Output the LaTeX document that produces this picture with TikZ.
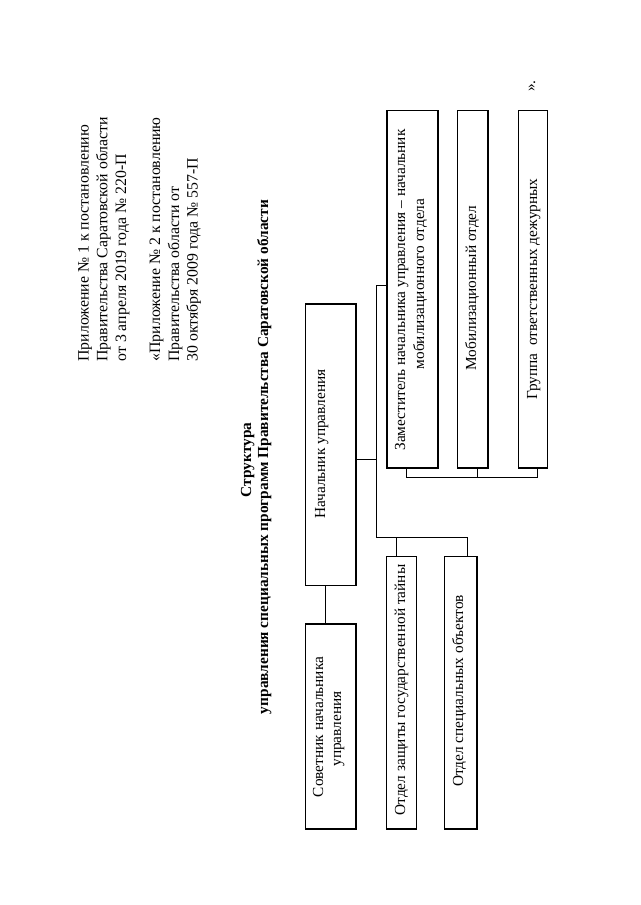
\documentclass[tikz,border=0pt]{standalone}
\usepackage{fontspec}
\setmainfont{Liberation Serif}
\usetikzlibrary{fit}
\begin{document}
\begin{tikzpicture}[x=0.75pt, y=-0.75pt,
  box/.style={draw, line width=0.9pt, inner sep=0pt},
  txt/.style={rotate=90, inner sep=0pt, font=\fontsize{11.5}{14}\selectfont},
  hdr/.style={rotate=90, inner sep=0pt, font=\fontsize{11.85}{14}\selectfont},
  ttl/.style={rotate=90, inner sep=0pt, font=\fontsize{11.5}{14}\selectfont\bfseries},
  conn/.style={line width=0.9pt}]
\useasboundingbox[fill=white] (0,0) rectangle (640,905);

% header
\node[hdr, anchor=base west] (h1) at (88.5,361.7) {Приложение № 1 к постановлению};
\node[hdr, anchor=base west] (h2) at (107.3,361.7) {Правительства Саратовской области};
\node[hdr, anchor=base west] (h3) at (126,361.7) {от 3 апреля 2019 года № 220-П};
\node[hdr, anchor=base west] (h4) at (160,361.7) {«Приложение № 2 к постановлению};
\node[hdr, anchor=base west] (h5) at (179,361.7) {Правительства области от};
\node[hdr, anchor=base west] (h6) at (197.5,361.7) {30 октября 2009 года № 557-П};

% title
\node[ttl, anchor=base] (t1) at (251,460) {Структура};
\node[ttl, anchor=base] (t2) at (268,457) {управления специальных программ Правительства Саратовской области};

% boxes
\node[box, fit={(305.7,304) (356,585.7)}] (nach) {};
\node[box, fit={(305.5,624) (356,829)}] (sov) {};
\node[box, fit={(386.5,556.7) (416.7,829)}] (otz) {};
\node[box, fit={(444.5,556.7) (477,829)}] (osp) {};
\node[box, fit={(387,110.7) (438,468)}] (zam) {};
\node[box, fit={(457.5,110.7) (488,468)}] (mob) {};
\node[box, fit={(518.3,110.7) (547.8,468)}] (grp) {};

% box texts
\node[txt, anchor=base] (nt) at (325,444) {Начальник управления};
\node[txt, anchor=base] (st1) at (323,727) {Советник начальника};
\node[txt, anchor=base] (st2) at (341,729) {управления};
\node[txt, anchor=base] (ot) at (405,690) {Отдел защиты государственной тайны};
\node[txt, anchor=base] (ost) at (463,691) {Отдел специальных объектов};
\node[txt, anchor=base] (zt1) at (405,290) {Заместитель начальника управления – начальник};
\node[txt, anchor=base] (zt2) at (424,284) {мобилизационного отдела};
\node[txt, anchor=base] (mt) at (476,288) {Мобилизационный отдел};
\node[txt, anchor=base] (gt) at (537,289) {Группа\ \ ответственных дежурных};
\node[txt, anchor=base west] (q) at (535,92) {».};

% connector points
\coordinate (j1) at (376.7,459.3);
\coordinate (jtop) at (376.7,285.7);
\coordinate (jbot) at (376.7,537.3);
\coordinate (c1) at (396.7,537.3);
\coordinate (c2) at (467.3,537.3);
\coordinate (s1) at (325.7,600);
\coordinate (b1) at (406.7,477.7);
\coordinate (b2) at (477.7,477.7);
\coordinate (b3) at (537.3,477.7);

% connectors
\draw[conn] (nach.east |- j1) -- (j1);
\draw[conn] (zam.west |- jtop) -- (jtop) -- (jbot) -- (c2) -- (c2 |- osp.north);
\draw[conn] (c1) -- (c1 |- otz.north);
\draw[conn] (s1 |- nach.south) -- (s1 |- sov.north);
\draw[conn] (b1 |- zam.south) -- (b1) -- (b3) -- (b3 |- grp.south);
\draw[conn] (b2) -- (b2 |- mob.south);
\end{tikzpicture}
\end{document}
